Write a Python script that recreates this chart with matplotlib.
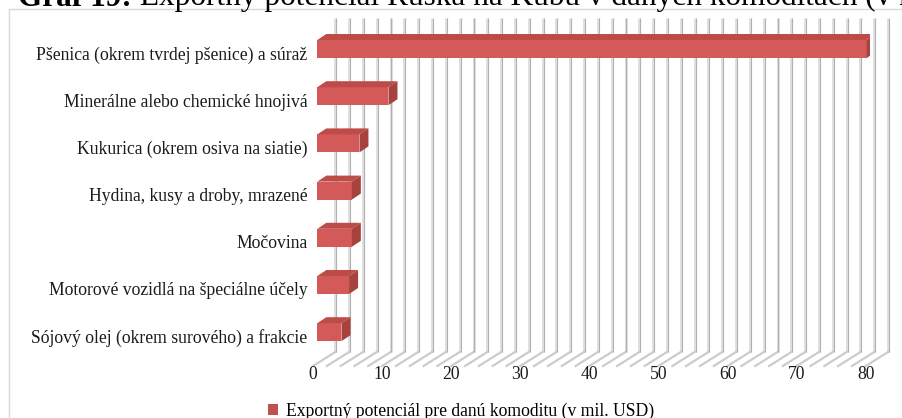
import matplotlib
matplotlib.use("Agg")
import matplotlib.pyplot as plt
from matplotlib.patches import Polygon, Patch, Rectangle
from matplotlib.transforms import ScaledTranslation, blended_transform_factory
import numpy as np

plt.rcParams['font.family'] = ['Liberation Serif', 'DejaVu Serif']

categories = [
    "Pšenica (okrem tvrdej pšenice) a súraž",
    "Minerálne alebo chemické hnojivá",
    "Kukurica (okrem osiva na siatie)",
    "Hydina, kusy a droby, mrazené",
    "Močovina",
    "Motorové vozidlá na špeciálne účely",
    "Sójový olej (okrem surového) a frakcie",
]
values = [79.5, 10.3, 6.1, 5.0, 5.0, 4.6, 3.5]
xticks = [0, 10, 20, 30, 40, 50, 60, 70, 80]
series_name = "Exportný potenciál pre danú komoditu (v mil. USD)"
title_bold = "Graf 19:"
title_rest = " Exportný potenciál Ruska na Kubu v daných komoditách (v mil. USD)"

W, H = 902, 418
fig = plt.figure(figsize=(W / 100, H / 100), dpi=100)

# axes geometry in pixels
x0_px, x80_px = 317.3, 870.1
top_px, bot_px = 18, 366
ax = fig.add_axes([x0_px / W, 1 - bot_px / H, (x80_px - x0_px) / W, (bot_px - top_px) / H])
row_px = 47.2
first_px = 49
top_d = -(first_px - top_px) / row_px
bot_d = top_d + (bot_px - top_px) / row_px
ax.set_xlim(0, 80)
ax.set_ylim(bot_d, top_d)
for s in ax.spines.values():
    s.set_visible(False)
ax.patch.set_alpha(0)

ppu_x = (x80_px - x0_px) / 80.0
ppu_y = row_px

# frame
fig.patches.append(Rectangle((9 / W, -0.1), 1.2, 1 - 9.5 / H + 0.1, transform=fig.transFigure,
                             fill=False, edgecolor='#d9d9d9', lw=1.0, zorder=0))

# back wall gridlines
wall_dx = 18.0
floor_back_frac = (bot_px - 352) / (bot_px - top_px)
blend = blended_transform_factory(ax.transData, ax.transAxes)
grid_vals = np.arange(0, 81, 2)
for v in grid_vals:
    xb = v + wall_dx / ppu_x
    xf = v - 4.3 / ppu_x
    ax.plot([xb, xb], [floor_back_frac, 1], transform=blend, color='#e0e0e0', lw=2.2,
            solid_capstyle='butt', zorder=1, clip_on=False)
    ax.plot([xb + 0.9 / ppu_x, xb + 0.9 / ppu_x], [floor_back_frac, 1], transform=blend,
            color='#b0b0b0', lw=0.8, solid_capstyle='butt', zorder=1.1, clip_on=False)
    ax.plot([xb, xf], [floor_back_frac, 0], transform=blend, color='#cccccc', lw=1.6,
            zorder=1, clip_on=False)

# bars
h = 18 / row_px
dx = 9 / ppu_x
dy = 6 / ppu_y
ypos = np.arange(len(categories))
front_c = '#d35a58'
top_c = '#bd4c49'
side_c = '#a8423f'
ax.barh(ypos, values, height=h, color=front_c, edgecolor='none', zorder=3)
for y, v in zip(ypos, values):
    t = y - h / 2
    b = y + h / 2
    ax.add_patch(Polygon([(0, t), (v, t), (v + dx, t - dy), (dx, t - dy)], closed=True,
                         facecolor=top_c, edgecolor='none', zorder=3))
    ax.add_patch(Polygon([(v, t), (v + dx, t - dy), (v + dx, b - dy), (v, b)], closed=True,
                         facecolor=side_c, edgecolor='none', zorder=3))

# ticks
ax.set_yticks(ypos)
ax.set_yticklabels(categories, fontsize=12.7, color='#1a1a1a')
ax.tick_params(axis='y', length=0, pad=7.2)
for lab in ax.get_yticklabels():
    lab.set_transform(lab.get_transform() + ScaledTranslation(0, -4 / 100, fig.dpi_scale_trans))
ax.set_xticks(xticks)
ax.set_xticklabels([str(x) for x in xticks], fontsize=12.7, color='#1a1a1a')
ax.tick_params(axis='x', length=0, pad=0)
for lab in ax.get_xticklabels():
    lab.set_transform(lab.get_transform() + ScaledTranslation(-4.3 / 100, 0, fig.dpi_scale_trans))

# title (cut off at top like the reference)
t1 = fig.text(18 / W, 1 - 5.5 / H, title_bold, fontsize=22.5, fontweight='bold', va='baseline', ha='left')
fig.canvas.draw()
bb = t1.get_window_extent()
fig.text(bb.x1 / W, 1 - 5.5 / H, title_rest, fontsize=22.5, va='baseline', ha='left')

# legend
fig.legend(handles=[Patch(facecolor='#c0504d', edgecolor='none', label=series_name)],
           loc='center left', bbox_to_anchor=(268 / W, 1 - 411 / H), frameon=False,
           fontsize=12.7, handlelength=0.55, handleheight=0.55, handletextpad=0.45,
           borderpad=0, borderaxespad=0)

fig.savefig('out.png', dpi=100)
